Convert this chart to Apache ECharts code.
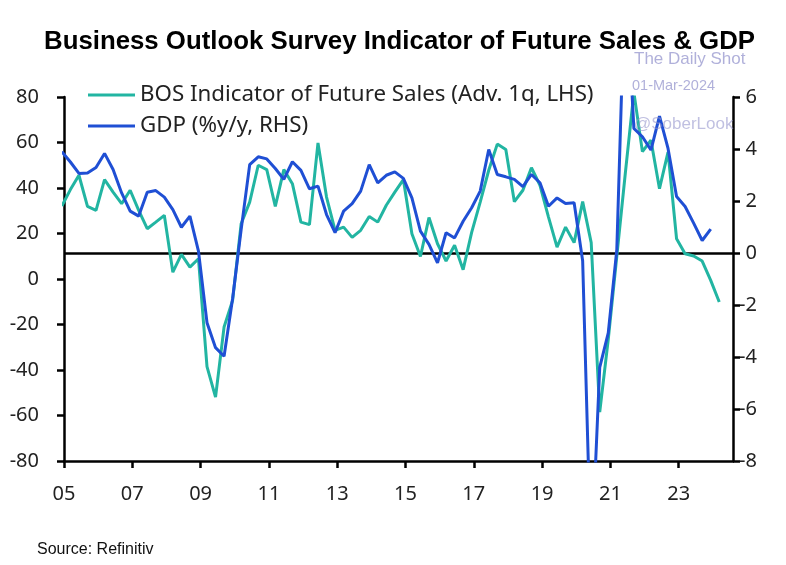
<!DOCTYPE html>
<html>
<head>
<meta charset="utf-8">
<script src="https://cdn.jsdelivr.net/npm/echarts@6/dist/echarts.min.js"></script>
<style>
html,body{margin:0;padding:0;background:#fff;}
#chart{width:786px;height:565px;}
</style>
</head>
<body>
<div id="chart"></div>
<script>
// Quarterly data, first quarter 2004Q4 (partly outside the axis), then 2005Q1 ...
const firstYear = 2004, firstQuarter = 4;

// GDP, % y/y (RHS), 2004Q4 .. 2023Q4
const gdp = [
  3.9, 3.5, 3.06, 3.08, 3.29, 3.83, 3.21, 2.31, 1.61, 1.42,
  2.34, 2.40, 2.15, 1.67, 0.99, 1.42, 0.07, -2.68, -3.64, -3.97,
  -1.75, 0.9, 3.40, 3.70, 3.62, 3.25, 2.83, 3.51, 3.18, 2.47,
  2.57, 1.48, 0.78, 1.61, 1.90, 2.38, 3.40, 2.70, 2.99, 3.12,
  2.87, 2.12, 0.84, 0.33, -0.38, 0.78, 0.58, 1.22, 1.74, 2.38,
  3.98, 3.02, 2.93, 2.83, 2.55, 3.02, 2.70, 1.80, 2.12, 1.90,
  1.93, -0.3, -12.0, -4.4, -3.07, 0.13, 11.0, 4.79, 4.47, 3.96,
  5.26, 4.02, 2.17, 1.79, 1.15, 0.48, 0.92
];

// BOS indicator of future sales, advanced 1q (LHS), 2004Q4 .. 2024Q1
const bos = [
  32.1, 39.3, 45.6, 31.9, 30.2, 43.7, 38.2, 33.1, 39.0, 30.2,
  22.1, 25.0, 28.0, 3.0, 10.8, 5.2, 8.9, -38.5, -51.9, -21.1,
  -9.4, 24.3, 33.8, 50.0, 48.1, 31.9, 48.1, 41.9, 25.0, 23.9,
  59.8, 36.0, 21.4, 22.8, 18.3, 21.4, 27.5, 25.0, 32.4, 38.2,
  43.7, 19.9, 9.9, 27.0, 15.5, 7.9, 14.8, 4.1, 20.5, 33.8,
  47.8, 59.3, 56.9, 34.0, 39.0, 48.9, 41.2, 27.2, 14.0, 22.8,
  16.0, 34.0, 16.0, -58.5, -26.5, 10.0, 46.6, 82.0, 56.0, 61.0,
  39.7, 55.8, 17.7, 11.1, 10.1, 7.9, -0.6, -10.1
];

const tickLabels = ['05','07','09','11','13','15','17','19','21','23'];
const seriesNames = ['BOS Indicator of Future Sales (Adv. 1q, LHS)', 'GDP (%y/y, RHS)'];

// position of a quarter on the x axis, in quarters since 2005Q1
function qPos(i) {
  const q0 = (firstYear - 2005) * 4 + (firstQuarter - 1);
  return q0 + i + 0.75;
}
const gdpData = gdp.map((v, i) => [qPos(i), v]);
const bosData = bos.map((v, i) => [qPos(i), v]);

const teal = '#22b5a2';
const blue = '#1f4fd4';
const axisFont = 'Noto Sans';
const wmColor = 'rgba(150,150,205,0.75)';

const chart = echarts.init(document.getElementById('chart'), null, {renderer: 'canvas'});
chart.setOption({
  animation: false,
  backgroundColor: '#fff',
  title: {
    text: 'Business Outlook Survey Indicator of Future Sales & GDP',
    left: 44,
    top: 29,
    padding: 0,
    textStyle: {fontFamily: 'Liberation Sans', fontWeight: 'bold', fontSize: 25.8, color: '#000'}
  },
  legend: {
    orient: 'vertical',
    left: 88,
    top: 82,
    padding: 0,
    itemWidth: 47,
    itemHeight: 3,
    itemGap: 5,
    icon: 'rect',
    data: seriesNames,
    textStyle: {fontFamily: axisFont, fontSize: 22.3, color: '#222', lineHeight: 26}
  },
  grid: {left: 64, right: 53, top: 97, bottom: 104, containLabel: false},
  xAxis: {
    type: 'value',
    min: 0,
    max: 78.36,
    interval: 8,
    axisLine: {show: true, onZero: false, lineStyle: {color: '#000', width: 2.5}},
    axisTick: {show: true, length: 7, lineStyle: {color: '#000', width: 2.5}},
    splitLine: {show: false},
    axisLabel: {
      margin: 23,
      fontFamily: axisFont, fontSize: 20, color: '#222',
      showMaxLabel: false,
      formatter: v => { const k = Math.round(v / 8); return (Math.abs(v - k * 8) < 1e-6 && tickLabels[k]) ? tickLabels[k] : ''; }
    }
  },
  yAxis: [
    {
      type: 'value', min: -80, max: 80, interval: 20, position: 'left',
      axisLine: {show: true, lineStyle: {color: '#000', width: 2.5}},
      axisTick: {show: true, length: 7, lineStyle: {color: '#000', width: 2.5}},
      splitLine: {show: false},
      axisLabel: {margin: 25, fontFamily: axisFont, fontSize: 20, color: '#222'}
    },
    {
      type: 'value', min: -8, max: 6, interval: 2, position: 'right',
      axisLine: {show: true, lineStyle: {color: '#000', width: 2.5}},
      axisTick: {show: true, length: 7, lineStyle: {color: '#000', width: 2.5}},
      splitLine: {show: false},
      axisLabel: {margin: 24, align: 'right', fontFamily: axisFont, fontSize: 20, color: '#222'}
    }
  ],
  series: [
    {
      name: seriesNames[0], type: 'line', yAxisIndex: 0, data: bosData,
      showSymbol: false, symbol: 'none', clip: true,
      itemStyle: {color: teal},
      lineStyle: {color: teal, width: 3},
      z: 3
    },
    {
      name: seriesNames[1], type: 'line', yAxisIndex: 1, data: gdpData,
      showSymbol: false, symbol: 'none', clip: true,
      itemStyle: {color: blue},
      lineStyle: {color: blue, width: 3},
      z: 4,
      markLine: {
        silent: true, symbol: 'none', label: {show: false},
        lineStyle: {color: '#000', width: 2.5, type: 'solid'},
        data: [{yAxis: 0}],
        z: 2
      }
    }
  ],
  graphic: [
    {type: 'text', left: 634, top: 51, style: {text: 'The Daily Shot', fontFamily: 'Liberation Sans', fontSize: 17, fill: wmColor}},
    {type: 'text', left: 632, top: 78, style: {text: '01-Mar-2024', fontFamily: 'Liberation Sans', fontSize: 14.5, fill: wmColor}},
    {type: 'text', left: 634, top: 116, style: {text: '@SoberLook', fontFamily: 'Liberation Sans', fontSize: 17, fill: 'rgba(150,150,205,0.6)'}, z: 10},
    {type: 'text', left: 37, top: 542, style: {text: 'Source: Refinitiv', fontFamily: 'Liberation Sans', fontSize: 16, fill: '#111'}}
  ]
});
</script>
</body>
</html>
